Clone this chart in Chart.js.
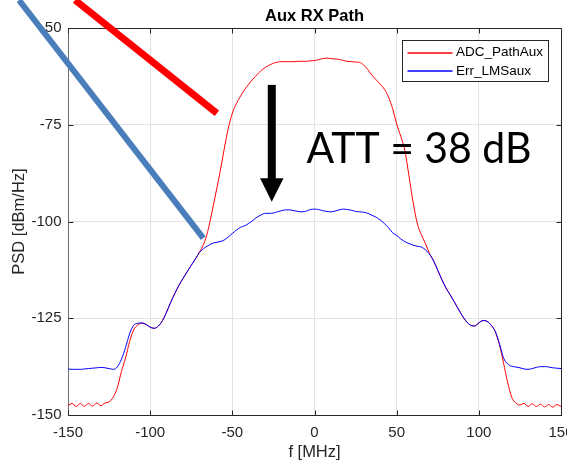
<!DOCTYPE html>
<html>
<head>
<meta charset="utf-8">
<title>Aux RX Path</title>
<script src="https://cdn.jsdelivr.net/npm/chart.js@4"></script>
<style>
  html, body { margin: 0; padding: 0; background: #fff; overflow: hidden; }
  canvas { display: block; }
</style>
</head>
<body>
<canvas id="psd-chart" width="567" height="465"></canvas>
<script>
const freq = [-150, -147.5, -145, -142.5, -140, -137.5, -135, -132.5, -130, -127.5, -125, -122.5, -120, -117.5, -115, -112.5, -110, -107.5, -105, -102.5,
  -100, -97.5, -95, -92.5, -90, -87.5, -85, -82.5, -80, -77.5, -75, -72.5, -70, -67.5, -65, -62.5, -60, -57.5, -55, -52.5,
  -50, -47.5, -45, -42.5, -40, -37.5, -35, -32.5, -30, -27.5, -25, -22.5, -20, -17.5, -15, -12.5, -10, -7.5, -5, -2.5,
  0, 2.5, 5, 7.5, 10, 12.5, 15, 17.5, 20, 22.5, 25, 27.5, 30, 32.5, 35, 37.5, 40, 42.5, 45, 47.5,
  50, 52.5, 55, 57.5, 60, 62.5, 65, 67.5, 70, 72.5, 75, 77.5, 80, 82.5, 85, 87.5, 90, 92.5, 95, 97.5,
  100, 102.5, 105, 107.5, 110, 112.5, 115, 117.5, 120, 122.5, 125, 127.5, 130, 132.5, 135, 137.5, 140, 142.5, 145, 147.5, 150];

const adcPathAux = [-147.6, -147.0, -147.8, -147.0, -147.8, -147.0, -147.7, -146.9, -147.6, -146.9, -146.6, -145.4, -143.0, -138.8, -135.3, -131.0, -128.0, -126.7, -126.3, -126.6,
  -127.3, -127.6, -127.0, -125.6, -123.4, -120.9, -118.6, -116.5, -114.7, -113.0, -111.3, -109.7, -107.9, -105.9, -102.6, -97.8, -92.6, -87.3, -81.4, -76.0,
  -72.0, -69.5, -67.6, -65.9, -64.5, -63.2, -62.1, -61.0, -60.2, -59.6, -59.1, -58.8, -58.7, -58.7, -58.7, -58.7, -58.6, -58.6, -58.6, -58.5,
  -58.4, -58.2, -57.9, -57.8, -57.9, -58.0, -58.1, -58.4, -58.6, -58.7, -58.8, -58.9, -59.6, -60.8, -62.2, -63.4, -64.5, -65.8, -67.8, -70.8,
  -74.8, -78.0, -81.7, -88.2, -95.0, -100.4, -103.4, -105.7, -108.3, -110.2, -112.6, -115.0, -117.2, -118.9, -120.7, -122.6, -124.4, -125.9, -126.8, -127.0,
  -126.2, -125.6, -125.8, -126.8, -128.5, -131.8, -136.5, -141.5, -145.4, -146.9, -147.4, -147.0, -147.8, -147.1, -147.8, -147.2, -147.9, -147.3, -148.0, -147.3, -147.8];

const errLMSaux = [-138.1, -138.2, -138.2, -138.2, -138.1, -138.0, -137.9, -137.8, -137.7, -137.8, -138.0, -138.2, -137.6, -135.6, -132.6, -129.0, -126.8, -126.3, -126.2, -126.6,
  -127.3, -127.6, -127.0, -125.6, -123.4, -120.9, -118.6, -116.5, -114.7, -113.0, -111.3, -109.7, -108.0, -107.0, -106.3, -105.7, -105.4, -105.2, -104.8, -104.0,
  -103.1, -102.2, -101.5, -101.1, -100.5, -99.7, -98.9, -98.3, -97.9, -97.9, -97.8, -97.5, -97.2, -97.0, -97.0, -97.2, -97.4, -97.5, -97.3, -96.9,
  -96.8, -96.9, -97.2, -97.4, -97.5, -97.3, -97.0, -96.8, -96.9, -97.1, -97.4, -97.5, -97.6, -97.9, -98.4, -98.9, -99.6, -100.5, -101.6, -102.9,
  -103.6, -104.5, -105.2, -105.7, -106.1, -106.4, -106.6, -107.3, -108.4, -110.2, -112.6, -115.0, -117.2, -118.9, -120.7, -122.6, -124.4, -125.9, -126.8, -127.0,
  -126.2, -125.6, -125.8, -126.8, -128.4, -131.5, -135.2, -136.8, -137.4, -137.6, -137.8, -138.1, -138.2, -138.0, -137.7, -137.5, -137.5, -137.6, -137.8, -137.9, -138.0];

const seriesNames = ['ADC_PathAux', 'Err_LMSaux'];
const chartTitle = 'Aux RX Path';
const xTicks = [-150, -100, -50, 0, 50, 100, 150];
const yTicks = [-150, -125, -100, -75, -50];

// marks drawn over the figure by hand, in axis units
const redStroke = [[-145.7, -42.8], [-59.4, -72.0]];
const blueStroke = [[-179.8, -42.8], [-67.7, -104.3]];
const arrowAt = { x: -26.0, top: -64.7, base: -88.8, tip: -94.9 };
const attNote = { x: -4.9, y: -84.8, text: 'ATT = 38 dB' };

const FONT = '"Liberation Sans", Arial, Helvetica, sans-serif';
const AXIS_COLOR = '#262626';

const figureExtras = {
  id: 'figureExtras',
  afterDatasetsDraw(chart) {
    const { ctx, chartArea: area } = chart;
    const sx = chart.scales.x;
    const sy = chart.scales.y;
    const left = Math.round(area.left) + 0.5;
    const right = Math.round(area.right) + 0.5;
    const top = Math.round(area.top) + 0.5;
    const bottom = Math.round(area.bottom) + 0.5;

    ctx.save();

    // title, centred over the axes like matlab does
    ctx.fillStyle = '#000';
    ctx.font = 'bold 16.5px ' + FONT;
    ctx.textAlign = 'center';
    ctx.textBaseline = 'middle';
    ctx.fillText(chartTitle, (area.left + area.right) / 2, area.top - 11.7);

    // box edges and inward ticks (matlab style)
    ctx.strokeStyle = AXIS_COLOR;
    ctx.lineWidth = 1;
    ctx.beginPath();
    ctx.moveTo(left, top);
    ctx.lineTo(right, top);
    ctx.lineTo(right, bottom);
    xTicks.forEach(v => {
      const px = Math.round(sx.getPixelForValue(v)) + 0.5;
      ctx.moveTo(px, bottom);
      ctx.lineTo(px, bottom - 5);
      ctx.moveTo(px, top);
      ctx.lineTo(px, top + 5);
    });
    yTicks.forEach(v => {
      const py = Math.round(sy.getPixelForValue(v)) + 0.5;
      ctx.moveTo(left, py);
      ctx.lineTo(left + 5, py);
      ctx.moveTo(right, py);
      ctx.lineTo(right - 5, py);
    });
    ctx.stroke();

    // legend box, top right
    const boxW = 146, boxH = 41;
    const boxL = Math.round(area.right - 13 - boxW) + 0.5;
    const boxT = Math.round(area.top + 12) + 0.5;
    ctx.fillStyle = '#fff';
    ctx.fillRect(boxL, boxT, boxW, boxH);
    ctx.strokeStyle = AXIS_COLOR;
    ctx.lineWidth = 1;
    ctx.strokeRect(boxL, boxT, boxW, boxH);
    ctx.font = '13.5px ' + FONT;
    ctx.textAlign = 'left';
    chart.data.datasets.forEach((ds, i) => {
      const rowY = boxT + 12 + i * 18.5;
      ctx.strokeStyle = ds.borderColor;
      ctx.lineWidth = 1.5;
      ctx.beginPath();
      ctx.moveTo(boxL + 5, Math.round(rowY));
      ctx.lineTo(boxL + 50, Math.round(rowY));
      ctx.stroke();
      ctx.fillStyle = '#000';
      ctx.fillText(ds.label, boxL + 53.5, rowY);
    });

    // thick pointer strokes
    const stroke = (pts, color, width) => {
      ctx.strokeStyle = color;
      ctx.lineWidth = width;
      ctx.lineCap = 'butt';
      ctx.beginPath();
      ctx.moveTo(sx.getPixelForValue(pts[0][0]), sy.getPixelForValue(pts[0][1]));
      ctx.lineTo(sx.getPixelForValue(pts[1][0]), sy.getPixelForValue(pts[1][1]));
      ctx.stroke();
    };
    stroke(redStroke, '#ff0000', 7);
    stroke(blueStroke, '#4a7ebb', 6);

    // down arrow
    const ax = sx.getPixelForValue(arrowAt.x);
    const aTop = sy.getPixelForValue(arrowAt.top);
    const aBase = sy.getPixelForValue(arrowAt.base);
    const aTip = sy.getPixelForValue(arrowAt.tip);
    ctx.fillStyle = '#000';
    ctx.fillRect(ax - 4, aTop, 8, aBase - aTop + 1);
    ctx.beginPath();
    ctx.moveTo(ax - 11.7, aBase);
    ctx.lineTo(ax + 11.7, aBase);
    ctx.lineTo(ax, aTip);
    ctx.closePath();
    ctx.fill();

    // attenuation note
    ctx.font = '43px Lato, "Open Sans", sans-serif';
    ctx.textBaseline = 'alphabetic';
    const tx = sx.getPixelForValue(attNote.x);
    const ty = sy.getPixelForValue(attNote.y);
    const w = ctx.measureText(attNote.text).width;
    ctx.translate(tx, ty);
    ctx.scale(225 / w, 1);
    ctx.fillText(attNote.text, 0, 0);

    ctx.restore();
  }
};

const ctx = document.getElementById('psd-chart').getContext('2d');

new Chart(ctx, {
  type: 'line',
  data: {
    datasets: [{
      label: seriesNames[0],
      data: freq.map((f, i) => ({ x: f, y: adcPathAux[i] })),
      borderColor: '#ff0000',
      borderWidth: 1,
      pointRadius: 0,
      cubicInterpolationMode: 'monotone',
      order: 2
    }, {
      label: seriesNames[1],
      data: freq.map((f, i) => ({ x: f, y: errLMSaux[i] })),
      borderColor: '#0000ff',
      borderWidth: 1,
      pointRadius: 0,
      cubicInterpolationMode: 'monotone',
      order: 1
    }]
  },
  options: {
    responsive: false,
    animation: false,
    devicePixelRatio: 1,
    layout: { padding: { left: 0, right: 6, top: 28, bottom: 0 } },
    plugins: {
      legend: { display: false },
      tooltip: { enabled: false },
      title: { display: false }
    },
    scales: {
      x: {
        type: 'linear',
        min: -150,
        max: 150,
        afterBuildTicks: s => { s.ticks = xTicks.map(v => ({ value: v })); },
        afterFit: s => { s.height = 50; s.paddingLeft = 0; s.paddingRight = 0; },
        grid: { color: '#e3e3e3', drawTicks: false },
        border: { color: AXIS_COLOR },
        ticks: { padding: 9, color: AXIS_COLOR, font: { family: FONT, size: 15 }, maxRotation: 0, autoSkip: false },
        title: {
          display: true,
          text: 'f [MHz]',
          color: AXIS_COLOR,
          font: { family: FONT, size: 16.5 },
          padding: { top: 0, bottom: 3 }
        }
      },
      y: {
        type: 'linear',
        min: -150,
        max: -50,
        afterBuildTicks: s => { s.ticks = yTicks.map(v => ({ value: v })); },
        afterFit: s => { s.width = 68; s.paddingTop = 0; s.paddingBottom = 0; },
        grid: { color: '#e3e3e3', drawTicks: false },
        border: { color: '#6e6e6e' },
        ticks: { padding: 6.5, color: AXIS_COLOR, font: { family: FONT, size: 15 } },
        title: {
          display: true,
          text: 'PSD [dBm/Hz]',
          color: AXIS_COLOR,
          font: { family: FONT, size: 16.5 },
          padding: { top: 10, bottom: 0 }
        }
      }
    }
  },
  plugins: [figureExtras]
});
</script>
</body>
</html>
